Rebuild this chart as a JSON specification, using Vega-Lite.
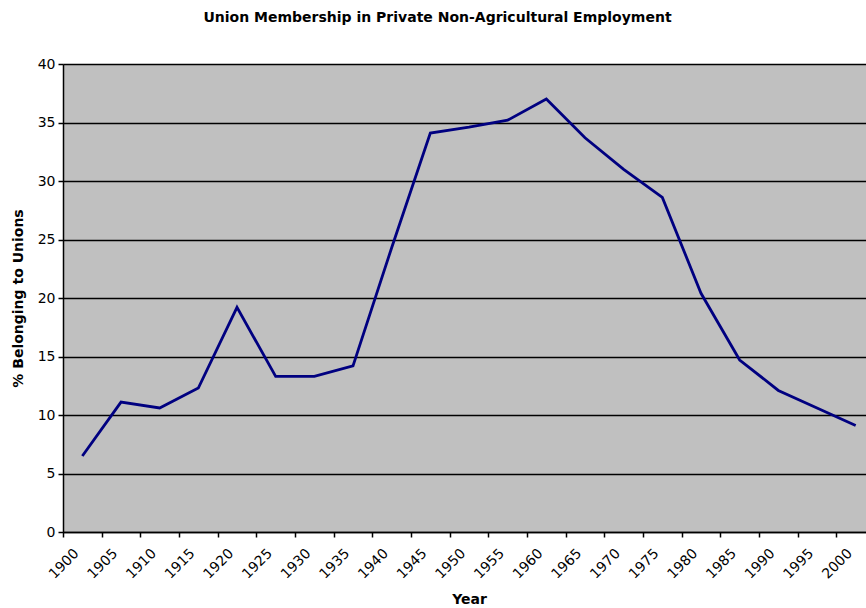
{
  "$schema": "https://vega.github.io/schema/vega-lite/v6.json",
  "autosize": {"type": "none"},
  "padding": {"left": 63, "top": 64, "right": 0, "bottom": 76},
  "width": 803,
  "height": 468,
  "background": "white",
  "title": {
    "text": "Union Membership in Private Non-Agricultural Employment",
    "font": "DejaVu Sans",
    "fontSize": 14,
    "fontWeight": "bold",
    "color": "black",
    "anchor": "middle",
    "dx": -27,
    "offset": 32
  },
  "config": {
    "view": {"fill": "#C0C0C0", "stroke": null},
    "axis": {
      "labelFont": "DejaVu Sans",
      "labelFontSize": 14,
      "labelColor": "black",
      "titleFont": "DejaVu Sans",
      "titleFontSize": 14,
      "titleFontWeight": "bold",
      "titleColor": "black",
      "domainColor": "black",
      "tickColor": "black",
      "domainWidth": 1.5,
      "tickWidth": 1.5
    }
  },
  "data": {
    "values": [
      {"year": "1900", "pct": 6.5},
      {"year": "1905", "pct": 11.1},
      {"year": "1910", "pct": 10.6},
      {"year": "1915", "pct": 12.3},
      {"year": "1920", "pct": 19.2},
      {"year": "1925", "pct": 13.3},
      {"year": "1930", "pct": 13.3},
      {"year": "1935", "pct": 14.2},
      {"year": "1940", "pct": 24.3},
      {"year": "1945", "pct": 34.1},
      {"year": "1950", "pct": 34.6},
      {"year": "1955", "pct": 35.2},
      {"year": "1960", "pct": 37.0},
      {"year": "1965", "pct": 33.7},
      {"year": "1970", "pct": 31.0},
      {"year": "1975", "pct": 28.6},
      {"year": "1980", "pct": 20.4},
      {"year": "1985", "pct": 14.7},
      {"year": "1990", "pct": 12.1},
      {"year": "1995", "pct": 10.6},
      {"year": "2000", "pct": 9.1}
    ]
  },
  "mark": {"type": "line", "color": "#000080", "strokeWidth": 2.8, "clip": false},
  "encoding": {
    "x": {
      "field": "year",
      "type": "ordinal",
      "sort": null,
      "scale": {"type": "band", "paddingInner": 0, "paddingOuter": 0, "range": [0, 812]},
      "axis": {
        "title": "Year",
        "labelAngle": -45,
        "labelAlign": "right",
        "labelBaseline": "top",
        "labelOffset": -11,
        "labelPadding": 9,
        "tickBand": "extent",
        "tickSize": 5,
        "grid": false,
        "titlePadding": 11
      }
    },
    "y": {
      "field": "pct",
      "type": "quantitative",
      "scale": {"domain": [0, 40], "nice": false},
      "axis": {
        "title": "% Belonging to Unions",
        "values": [0, 5, 10, 15, 20, 25, 30, 35, 40],
        "grid": true,
        "gridColor": "black",
        "gridWidth": 1.5,
        "gridOpacity": 1,
        "tickSize": 5,
        "labelPadding": 3,
        "titlePadding": 12
      }
    }
  }
}
